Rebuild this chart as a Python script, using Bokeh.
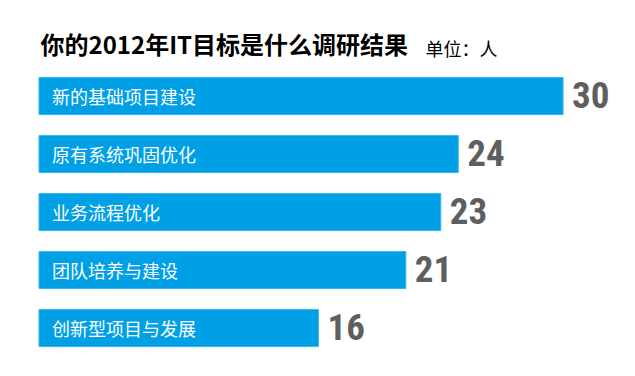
from bokeh.plotting import figure
from bokeh.models import ColumnDataSource, Range1d, Label
from bokeh.core.properties import value
from bokeh.embed import file_html
from bokeh.resources import INLINE

title_text = "你的2012年IT目标是什么调研结果"
unit_text = "单位：人"
categories = ["新的基础项目建设", "原有系统巩固优化", "业务流程优化", "团队培养与建设", "创新型项目与发展"]
counts = [30, 24, 23, 21, 16]

src = ColumnDataSource(dict(
    y=list(range(len(categories))),
    cat=categories,
    val=counts,
    lbl=[str(v) for v in counts],
))

p = figure(width=619, height=360, output_backend="svg", toolbar_location=None,
           x_range=Range1d(-2.204, 33.23), y_range=Range1d(4.560, -1.647),
           min_border=0, outline_line_color=None)
p.axis.visible = False
p.grid.visible = False
p.background_fill_color = "white"
p.border_fill_color = "white"

p.hbar(y="y", left=0, right="val", height=0.64, source=src,
       fill_color="#00A0E6", line_color="#3DB5EC", line_width=1)

p.text(x=0, y="y", text="cat", source=src, x_offset=13,
       text_font=value("Noto Sans CJK SC"), text_font_size="18px",
       text_color="white", text_baseline="middle", text_align="left")

p.text(x="val", y="y", text="lbl", source=src, x_offset=9, y_offset=-1,
       text_font=value("Roboto Condensed, Liberation Sans"), text_font_size="37px",
       text_font_style="bold", text_color="#5E5E5E",
       text_baseline="middle", text_align="left")

p.add_layout(Label(x=40, y=317, x_units="screen", y_units="screen", text=title_text,
                   text_font="Noto Sans CJK SC", text_font_size="24px",
                   text_font_style="bold", text_color="black", text_baseline="middle"))
p.add_layout(Label(x=425, y=313, x_units="screen", y_units="screen", text=unit_text,
                   text_font="Noto Sans CJK SC", text_font_size="18px",
                   text_color="black", text_baseline="middle"))

open("out.html", "w").write(file_html(p, INLINE))
